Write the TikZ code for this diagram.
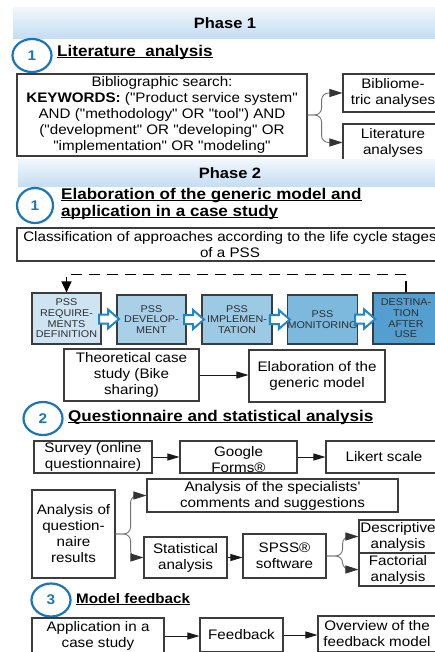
\documentclass[tikz,border=0pt]{standalone}
\usepackage{fontspec}
\setmainfont{Liberation Sans}[FakeStretch=1.1, Ligatures=TeXOff]
\usetikzlibrary{arrows.meta,shapes.geometric,calc}

\definecolor{numblue}{HTML}{1B75BB}
\definecolor{arrblue}{HTML}{1F86C8}
\definecolor{bandtop}{HTML}{F0F6FC}
\definecolor{bandbot}{HTML}{C4DCF2}
\definecolor{lc1}{HTML}{CFE4F2}
\definecolor{lc2}{HTML}{A9D0E7}
\definecolor{lc3}{HTML}{9CC9E4}
\definecolor{lc4}{HTML}{7DB8DD}
\definecolor{lc5}{HTML}{559FD0}
\definecolor{edge}{HTML}{3C3C3C}

\newcommand\bodyfont{\fontsize{13.8}{16}\selectfont}
\newcommand\headfont{\fontsize{15.5}{17.5}\selectfont\bfseries}
\newcommand\stagefont{\fontsize{9.8}{10.7}\selectfont}
% underlined heading line: rule just below the baseline
\newsavebox\hdbox
\newcommand\hd[1]{\sbox\hdbox{#1}\rlap{\rule[-1.8pt]{\wd\hdbox}{1.1pt}}\usebox\hdbox}

% \boxat[options]{name}{x1}{y1}{x2}{y2}{text}
\newcommand\boxat[7][]{%
  \node[box,#1,minimum width={#5-#3},minimum height={#6-#4}] (#2)
    at ({(#3+#5)/2},{(#4+#6)/2}) {#7};}

\tikzset{
  box/.style={draw=edge, line width=1.1pt, fill=white, align=center,
    inner sep=1pt, font=\bodyfont},
  stage/.style={draw=edge, line width=1.1pt, align=center, inner sep=0pt,
    font=\stagefont, text=black!82},
  band/.style={top color=bandtop, bottom color=bandbot, inner sep=0pt,
    font=\fontsize{15}{15}\selectfont\bfseries},
  num/.style={ellipse, draw=numblue, line width=2.2pt, text=numblue,
    font=\fontsize{14}{14}\selectfont\bfseries, inner sep=0pt,
    minimum width=39pt, minimum height=33pt},
  head/.style={font=\headfont, anchor=base west, inner sep=0pt, align=left},
  arr/.style={draw=black!90, line width=0.9pt, -{Triangle[length=12pt,width=7pt]}},
  fork/.style={draw=black!55, line width=0.9pt, rounded corners=7pt,
    -{Triangle[length=13pt,width=8pt,color=black!80]}},
  loopback/.style={draw=black, line width=1.4pt, dash pattern=on 11pt off 7pt,
    -{Triangle[length=11pt,width=10pt]}},
  blockarrow/.pic={\draw[arrblue, line width=2pt, fill=white]
    (-10,-4.5) -- (-1,-4.5) -- (-1,-9.5) -- (10,0) -- (-1,9.5) -- (-1,4.5)
    -- (-10,4.5) -- cycle;}
}

\begin{document}
\begin{tikzpicture}[x=1pt,y=-1pt]
\useasboundingbox[fill=white] (0,0) rectangle (435,652);

% ---------------- Phase 1 ----------------
\node[band, minimum width=424, minimum height=31] (ph1) at (225,23.5) {Phase 1};
\node[num] (n11) at (32,55.5) {1};
\node[head] (h11) at (57,56.7) {\hd{Literature\ \ analysis}};

\boxat{bib}{17}{74}{307}{156}{Bibliographic search:\\
  \textbf{KEYWORDS:} ("Product service system"\\
  AND ("methodology" OR "tool") AND\\
  ("development" OR "developing" OR\\
  "implementation" OR "modeling"}
\boxat{bm}{343}{74}{443}{112}{Bibliome-\\tric analyses}
\boxat{la}{343}{124}{443}{161}{Literature\\analyses}
\draw[fork] (bib.east) -- ++(14,0) |- (bm.west);
\draw[fork] (bib.east) -- ++(14,0) |- (la.west);

% ---------------- Phase 2 ----------------
\node[band, minimum width=424, minimum height=27] (ph2) at (230,173.5) {Phase 2};
\node[num, minimum width=36pt, minimum height=35pt] (n21) at (35,205.5) {1};
% base anchor of a two-line node sits on its last line
\node[head] (h21) at (61,216.7) {\hd{Elaboration of the generic model and}\\
  \hd{application in a case study}};

\boxat{cls}{17}{228}{443}{261}{Classification of approaches according to the life cycle stages\\of a PSS}

% life cycle stages
\node[stage, fill=lc1, minimum width=69, minimum height=51] (b1) at (66.5,318.5)
  {PSS\\REQUIRE-\\MENTS\\DEFINITION};
\node[stage, fill=lc2, minimum width=69, minimum height=49] (b2) at (151.5,319.5)
  {PSS\\DEVELOP-\\MENT};
\node[stage, fill=lc3, minimum width=70, minimum height=49] (b3) at (237,319.5)
  {PSS\\IMPLEMEN-\\TATION};
\node[stage, fill=lc4, minimum width=69, minimum height=49] (b4) at (322.5,319.5)
  {PSS\\MONITORING};
\node[stage, fill=lc5, minimum width=66, minimum height=51] (b5) at (406,318.5)
  {DESTINA-\\TION\\AFTER\\USE};
\pic at ($(b1.east)!0.5!(b2.west)$) {blockarrow};
\pic at ($(b2.east)!0.5!(b3.west)$) {blockarrow};
\pic at ($(b3.east)!0.5!(b4.west)$) {blockarrow};
\pic at ($(b4.east)!0.5!(b5.west)$) {blockarrow};
\draw[loopback] (b5.north) -- ++(0,-18) -| (b1.north);

\boxat{th}{64}{349}{199}{401}{Theoretical case\\study (Bike\\sharing)}
\boxat{el}{249}{350}{385}{402}{Elaboration of the\\generic model}
\draw[arr] (th.east) -- (th.east -| el.west);

% ---------------- Questionnaire ----------------
\node[num] (n22) at (43,418.5) {2};
\node[head] (h22) at (68,421) {\hd{Questionnaire and statistical analysis}};

\boxat{sv}{34}{441}{152}{473}{Survey (online\\questionnaire)}
\boxat{gf}{180}{441}{297}{473}{}
\node[font=\bodyfont, align=center, inner sep=0pt] (gft) at (238.5,459.5) {Google\\Forms®};
\boxat{lk}{326}{441}{442}{473}{Likert scale}
\draw[arr] (sv.east) -- (gf.west);
\draw[arr] (gf.east) -- (lk.west);

\boxat{aq}{32}{490}{115}{578}{Analysis of\\question-\\naire\\results}
\boxat{sp}{147}{479}{398}{512}{Analysis of the specialists'\\comments and suggestions}
\boxat{st}{144}{537}{227}{578}{Statistical\\analysis}
\boxat{ss}{243}{534}{326}{578}{SPSS®\\software}
\boxat{de}{359}{520}{437}{553}{Descriptive\\analysis}
\boxat{fa}{359}{553}{437}{586}{Factorial\\analysis}
\draw[fork] (aq.east) -- ++(15,0) |- (sp.west);
\draw[fork] (aq.east) -- ++(15,0) |- (st.west);
\draw[arr] (st.east) -- (st.east -| ss.west);
\draw[fork] (ss.east) -- ++(16,0) |- (de.west);
\draw[fork] (ss.east) -- ++(16,0) |- (fa.west);

% ---------------- Model feedback ----------------
\node[num] (n23) at (51,600) {3};
\node[head, font=\fontsize{13.8}{16}\selectfont\bfseries] (h23) at (76,603.3) {\hd{Model feedback}};

\boxat{ap}{32}{618}{164}{654}{Application in a\\case study}
\boxat{fb}{200}{618}{283}{652}{Feedback}
\boxat{ov}{318}{616}{436}{652}{Overview of the\\feedback model}
\draw[arr] (ap.east) -- (ap.east -| fb.west);
\draw[arr] (fb.east) -- (fb.east -| ov.west);
\end{tikzpicture}
\end{document}
